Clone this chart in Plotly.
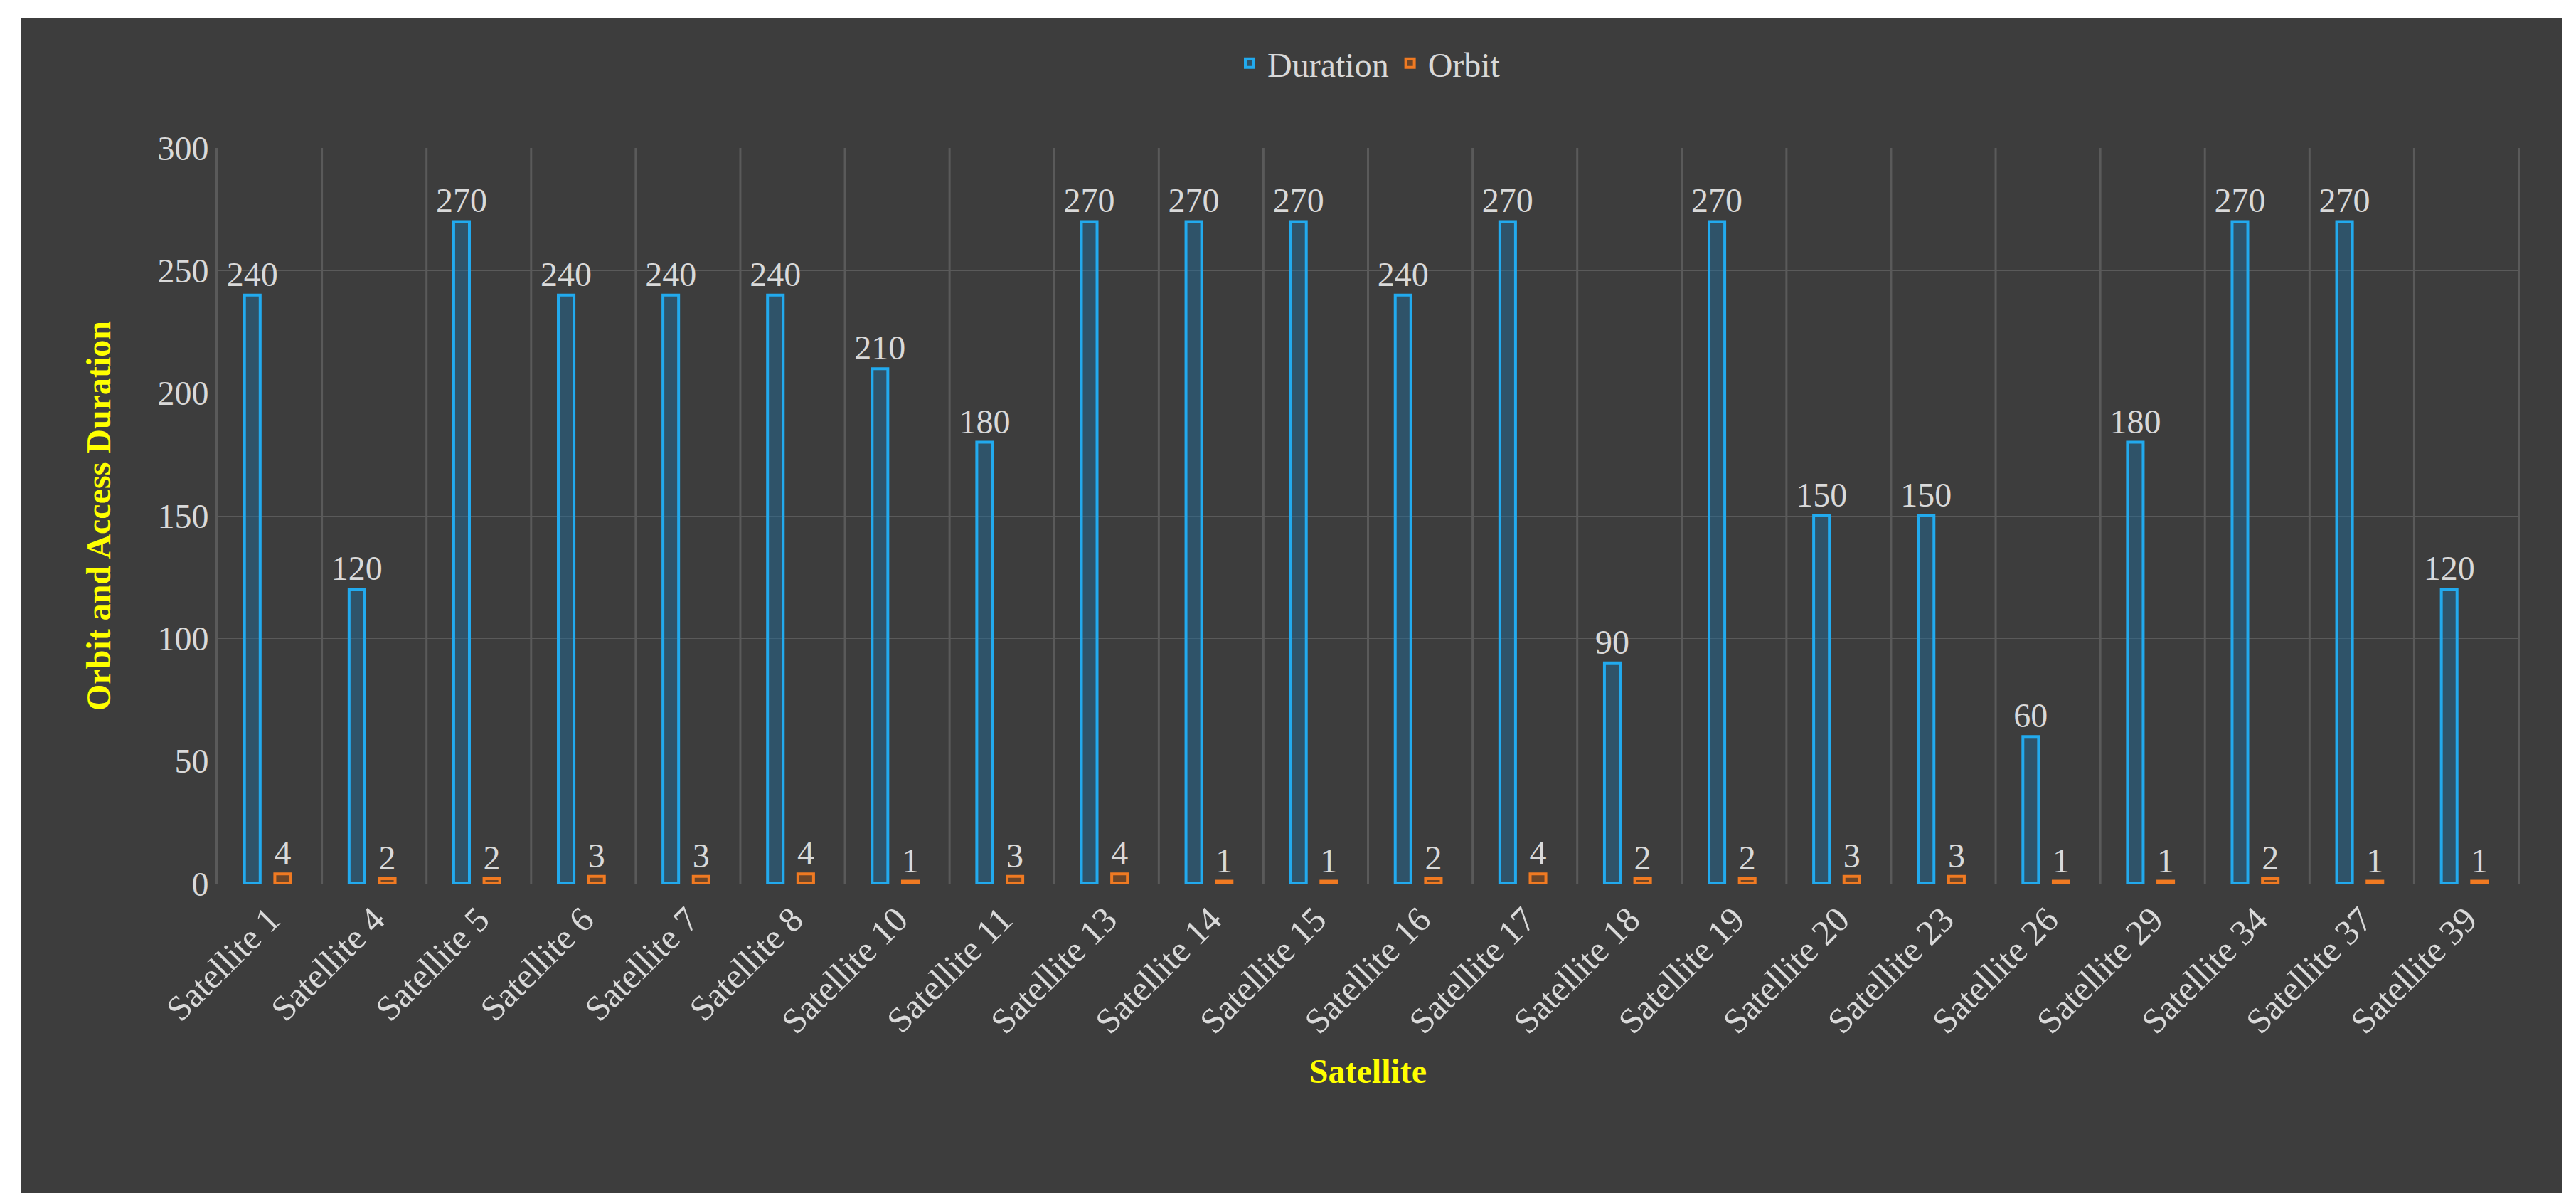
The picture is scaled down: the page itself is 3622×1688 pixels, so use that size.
import plotly.graph_objects as go

categories = ["Satellite 1","Satellite 4","Satellite 5","Satellite 6","Satellite 7","Satellite 8",
              "Satellite 10","Satellite 11","Satellite 13","Satellite 14","Satellite 15","Satellite 16",
              "Satellite 17","Satellite 18","Satellite 19","Satellite 20","Satellite 23","Satellite 26",
              "Satellite 29","Satellite 34","Satellite 37","Satellite 39"]
duration = [240,120,270,240,240,240,210,180,270,270,270,240,270,90,270,150,150,60,180,270,270,120]
orbit = [4,2,2,3,3,4,1,3,4,1,1,2,4,2,2,3,3,1,1,2,1,1]

FONT = "Liberation Serif"
fig = go.Figure()
fig.add_bar(x=categories, y=duration, name="Duration", width=0.15, offset=-0.24,
            marker=dict(color="rgba(30,110,160,0.45)", line=dict(color="#22aaee", width=4)),
            text=duration, textposition="outside", textangle=0, constraintext="none",
            textfont=dict(size=48, color="#d9d9d9", family=FONT), cliponaxis=False)
fig.add_bar(x=categories, y=orbit, name="Orbit", width=0.15, offset=0.05,
            marker=dict(color="rgba(160,80,20,0.5)", line=dict(color="#f07a22", width=4)),
            text=orbit, textposition="outside", textangle=0, constraintext="none",
            textfont=dict(size=48, color="#d9d9d9", family=FONT), cliponaxis=False)

fig.add_shape(type="rect", xref="paper", yref="paper", x0=-0.0843, x1=1.0182, y0=-0.4197, y1=1.176,
              fillcolor="#3d3d3d", line=dict(color="#3d3d3d"), layer="below")

fig.update_layout(
    width=3622, height=1688, paper_bgcolor="white", plot_bgcolor="#3d3d3d",
    margin=dict(l=296, r=87, t=200, b=454),
    font=dict(family=FONT, color="#d9d9d9"),
    barmode="overlay",
    legend=dict(orientation="h", x=0.5, xanchor="center", y=1.115, yanchor="middle",
                font=dict(size=48, color="#d9d9d9", family=FONT), bgcolor="rgba(0,0,0,0)",
                itemwidth=40),
    xaxis=dict(showgrid=False, tickangle=-45, tickfont=dict(size=50, color="#d9d9d9"),
               title=dict(text="<b>Satellite</b>", font=dict(size=48, color="#ffff00"), standoff=25),
               showline=True, linecolor="#5a5a5a", ticks=""),
    yaxis=dict(range=[0,300], dtick=50, gridcolor="#5a5a5a", tickfont=dict(size=48, color="#d9d9d9"),
               title=dict(text="<b>Orbit and Access Duration</b>", font=dict(size=48, color="#ffff00"), standoff=50),
               zeroline=False, showline=True, linecolor="#5a5a5a"),
)
for i in range(len(categories)+1):
    fig.add_shape(type="line", xref="x", yref="paper", x0=i-0.5, x1=i-0.5, y0=0, y1=1,
                  line=dict(color="#5a5a5a", width=3), layer="below")
fig.write_html("out.html")
